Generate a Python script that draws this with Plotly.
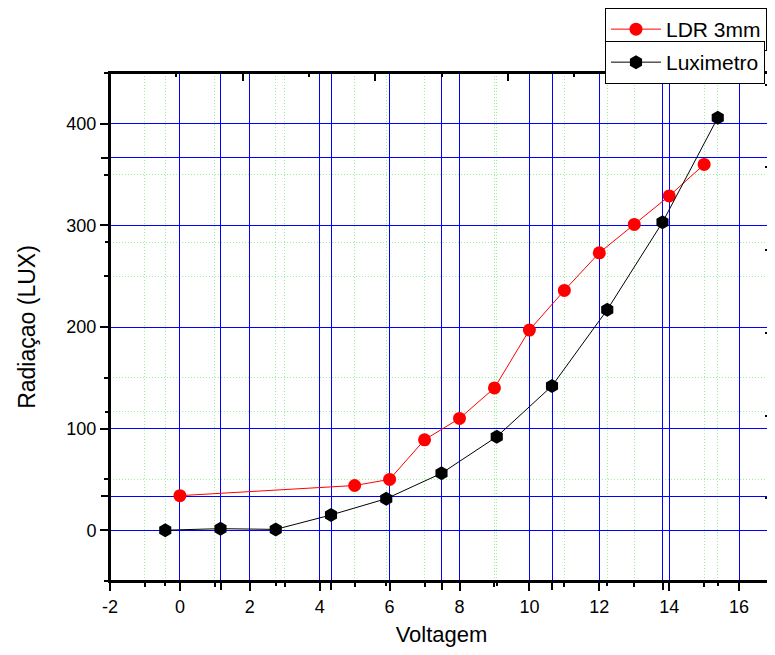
import plotly.graph_objects as go

# LDR 3mm series (bottom/left axes)
ldr_volt = [0, 5, 6, 7, 8, 9, 10, 11, 12, 13, 14, 15]
ldr_lux = [34, 44, 50, 89, 110, 140, 197, 236, 273, 301, 329, 360]

# Luximetro series (plotted on the second layer's x axis, index 1..11)
lux_idx = [1, 2, 3, 4, 5, 6, 7, 8, 9, 10, 11]
lux_lux = [0, 1.5, 0.8, 15, 31, 56, 92, 142, 217, 303, 406]

# tick labels (hyphen minus like the original)
x_ticks = [-2, 0, 2, 4, 6, 8, 10, 12, 14, 16]
x_labels = ["-2", "0", "2", "4", "6", "8", "10", "12", "14", "16"]
y_ticks = [0, 100, 200, 300, 400]
y_labels = ["0", "100", "200", "300", "400"]

font = "Arial, Liberation Sans, sans-serif"
blue = "#0000ff"
green = "#9cf09c"
dots = "1px,2px"

fig = go.Figure()

fig.add_trace(go.Scatter(
    x=ldr_volt, y=ldr_lux, name="LDR 3mm", mode="lines+markers",
    line=dict(color="#ff0000", width=1),
    marker=dict(symbol="circle", size=13, color="#ff0000"),
    legend="legend",
))
fig.add_trace(go.Scatter(
    x=lux_idx, y=lux_lux, name="Luximetro", mode="lines+markers",
    xaxis="x2", yaxis="y",
    line=dict(color="#000000", width=1),
    marker=dict(symbol="hexagon", size=14, color="#000000"),
    legend="legend2",
))
# empty traces so the overlay layers get drawn
fig.add_trace(go.Scatter(x=[], y=[], xaxis="x", yaxis="y2", showlegend=False))
fig.add_trace(go.Scatter(x=[], y=[], xaxis="x3", yaxis="y3", showlegend=False))

# plot frame
fig.add_shape(type="rect", xref="x domain", yref="y domain", x0=0, x1=1, y0=0, y1=1,
              line=dict(color="black", width=2), layer="above")

fig.update_layout(
    width=767, height=647,
    margin=dict(l=102, r=2, t=65, b=74, autoexpand=False),
    paper_bgcolor="white", plot_bgcolor="white",
    font=dict(family=font, size=19, color="black"),
    showlegend=True,
    xaxis=dict(
        range=[-2, 16.97], tickmode="array", tickvals=x_ticks, ticktext=x_labels,
        showgrid=True, gridcolor=blue, gridwidth=1, zeroline=False, automargin=False,
        ticks="outside", ticklen=8, tickwidth=2, tickcolor="black",
        showline=True, linecolor="black", linewidth=2, mirror=True,
        minor=dict(dtick=1, tick0=0, ticks="outside", ticklen=4, tickwidth=1.5, tickcolor="black",
                   showgrid=True, gridcolor=green, griddash=dots, gridwidth=1),
        title=dict(text="Voltagem", font=dict(size=22), standoff=11),
        tickfont=dict(size=18),
    ),
    yaxis=dict(
        range=[-50, 450], tickmode="array", tickvals=y_ticks, ticktext=y_labels,
        showgrid=True, gridcolor=blue, gridwidth=1, zeroline=False, automargin=False,
        ticks="outside", ticklen=8, tickwidth=2, tickcolor="black",
        showline=True, linecolor="black", linewidth=2, mirror=True,
        minor=dict(dtick=50, tick0=0, ticks="outside", ticklen=4, tickwidth=1.5, tickcolor="black",
                   showgrid=True, gridcolor=green, griddash=dots, gridwidth=1),
        title=dict(text="Radiaçao (LUX)", font=dict(size=23), standoff=24),
        tickfont=dict(size=18),
    ),
    xaxis2=dict(
        overlaying="x", anchor="y", side="bottom", range=[0, 12], dtick=2, tick0=0,
        showgrid=True, gridcolor=blue, gridwidth=1, zeroline=False, automargin=False,
        ticks="outside", ticklen=8, tickwidth=2, tickcolor="black",
        showticklabels=False, showline=False,
        minor=dict(dtick=1, ticks="outside", ticklen=4, tickwidth=1.5, tickcolor="black",
                   showgrid=True, gridcolor=green, griddash=dots, gridwidth=1),
    ),
    yaxis2=dict(
        overlaying="y", anchor="x", side="left", range=[0, 6], dtick=4, tick0=1,
        showgrid=True, gridcolor=blue, gridwidth=1, zeroline=False, automargin=False,
        ticks="outside", ticklen=8, tickwidth=2, tickcolor="black",
        showticklabels=False, showline=False,
        minor=dict(dtick=1, ticks="outside", ticklen=4, tickwidth=1.5, tickcolor="black",
                   showgrid=True, gridcolor=green, griddash=dots, gridwidth=1),
    ),
    xaxis3=dict(
        overlaying="x", anchor="y3", side="top", range=[0, 10], dtick=2, tick0=0,
        showgrid=False, zeroline=False, showticklabels=False, showline=False, automargin=False,
        ticks="inside", ticklen=8, tickwidth=2, tickcolor="black",
        minor=dict(dtick=1, ticks="inside", ticklen=4, tickwidth=1.5, tickcolor="black"),
    ),
    yaxis3=dict(
        overlaying="y", anchor="x3", side="right", range=[0, 12.28], dtick=2, tick0=0,
        showgrid=False, zeroline=False, showticklabels=False, showline=False, automargin=False,
        ticks="inside", ticklen=8, tickwidth=2, tickcolor="black",
        minor=dict(dtick=1, ticks="inside", ticklen=5, tickwidth=1.5, tickcolor="black"),
    ),
    legend=dict(
        visible=True,
        x=0.7466, y=1.128, xanchor="left", yanchor="top", xref="paper", yref="paper",
        bgcolor="white", bordercolor="black", borderwidth=1,
        font=dict(size=21), itemwidth=50, tracegroupgap=0,
    ),
    legend2=dict(
        visible=True,
        x=0.7466, y=1.063, xanchor="left", yanchor="top", xref="paper", yref="paper",
        bgcolor="white", bordercolor="black", borderwidth=1,
        font=dict(size=21), itemwidth=50, tracegroupgap=0,
    ),
)

fig.write_html("out.html")
